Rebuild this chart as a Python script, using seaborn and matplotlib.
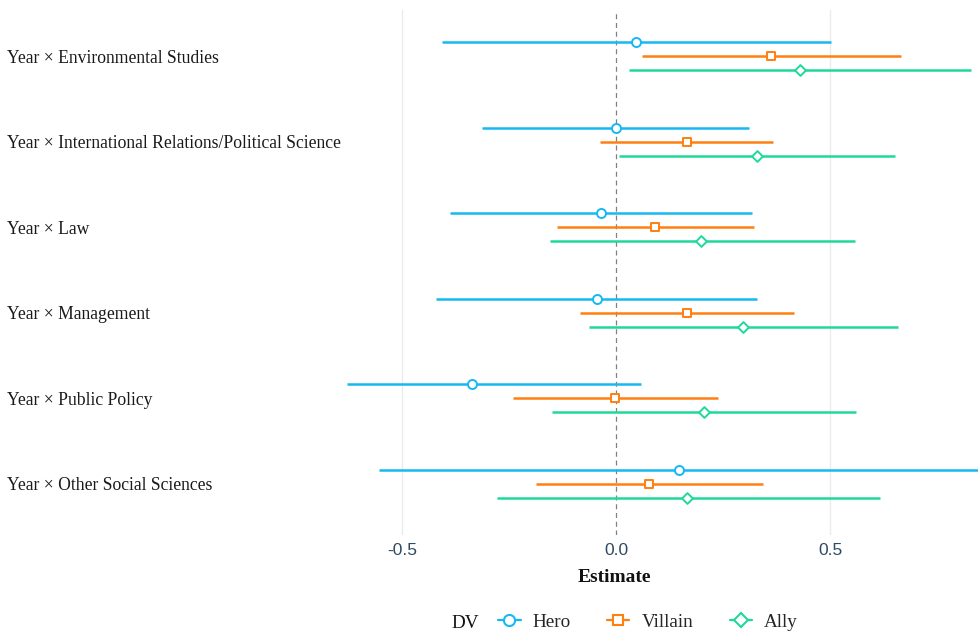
import pandas as pd
import matplotlib
matplotlib.use("Agg")
import matplotlib.pyplot as plt
import matplotlib.transforms as mtransforms
from matplotlib.lines import Line2D
import seaborn as sns

# Data
terms = [
    "Year × Environmental Studies",
    "Year × International Relations/Political Science",
    "Year × Law",
    "Year × Management",
    "Year × Public Policy",
    "Year × Other Social Sciences",
]
dvs = ["Hero", "Villain", "Ally"]

hero_est = [0.047, 0.000, -0.035, -0.044, -0.336, 0.147]
hero_low = [-0.407, -0.313, -0.388, -0.421, -0.628, -0.554]
hero_high = [0.502, 0.311, 0.318, 0.329, 0.058, 0.870]

villain_est = [0.362, 0.166, 0.091, 0.166, -0.002, 0.077]
villain_low = [0.061, -0.037, -0.138, -0.084, -0.241, -0.187]
villain_high = [0.666, 0.367, 0.322, 0.416, 0.238, 0.343]

ally_est = [0.430, 0.329, 0.199, 0.297, 0.206, 0.166]
ally_low = [0.030, 0.007, -0.154, -0.063, -0.150, -0.278]
ally_high = [0.829, 0.652, 0.558, 0.659, 0.561, 0.617]

colors = {"Hero": "#16B8F3", "Villain": "#FF7F11", "Ally": "#1FD99C"}
markers = {"Hero": "o", "Villain": "s", "Ally": "D"}
msizes = {"Hero": 6.5, "Villain": 5.8, "Ally": 5.5}
offsets = {"Hero": -0.165, "Villain": 0.0, "Ally": 0.165}

rows = []
for dv, est, lo, hi in [("Hero", hero_est, hero_low, hero_high),
                        ("Villain", villain_est, villain_low, villain_high),
                        ("Ally", ally_est, ally_low, ally_high)]:
    for i, t in enumerate(terms):
        rows.append({"term": t, "DV": dv, "estimate": est[i], "low": lo[i],
                     "high": hi[i], "y": i + offsets[dv]})
df = pd.DataFrame(rows)

sns.set_theme(style="white")
fig = plt.figure(figsize=(9.79, 6.35), dpi=100)
ax = fig.add_axes([346 / 979, 100 / 635, 633 / 979, 525 / 635])

ax.axvline(0, color="#808080", linestyle=(0, (4, 3)), linewidth=0.9, zorder=1)
for xv in [-0.5, 0.5]:
    ax.axvline(xv, color="#EBEBEB", linewidth=1.0, zorder=0)

for dv in dvs:
    sub = df[df["DV"] == dv]
    ax.hlines(sub["y"], sub["low"], sub["high"], color=colors[dv],
              linewidth=1.8, zorder=2)
    sns.scatterplot(data=sub, x="estimate", y="y", ax=ax, marker=markers[dv],
                    s=msizes[dv] ** 2, facecolor="white", edgecolor=colors[dv],
                    linewidth=1.4, zorder=3, legend=False)

ax.set_xlim(-0.631, 0.848)
ax.set_ylim(5.6, -0.54)
ax.set_xticks([-0.5, 0.0, 0.5])
ax.set_xticklabels(["-0.5", "0.0", "0.5"], fontfamily="Liberation Sans",
                   fontsize=12.5, color="#2E4A62")
ax.set_yticks(range(len(terms)))
ax.set_yticklabels(terms, fontfamily="Liberation Serif", fontsize=12.7,
                   color="#1A1A1A")
# nudge the term labels down a little
shift = mtransforms.ScaledTranslation(0, -2.5 / 100, fig.dpi_scale_trans)
for lab in ax.get_yticklabels():
    lab.set_horizontalalignment("left")
    lab.set_transform(lab.get_transform() + shift)
ax.tick_params(axis="y", length=0, pad=339 * 0.72)
ax.tick_params(axis="x", length=0, pad=6)
for s in ax.spines.values():
    s.set_visible(False)
ax.set_ylabel("")
ax.set_xlabel("")
fig.text(614 / 979, 1 - 577 / 635, "Estimate", ha="center", va="center",
         fontfamily="Liberation Serif", fontsize=14, fontweight="bold",
         color="#111111")

handles = [Line2D([], [], color=colors[dv], marker=markers[dv],
                  markersize=msizes[dv] + 1.5, markerfacecolor="white",
                  markeredgewidth=1.5, linewidth=1.6) for dv in dvs]
leg = fig.legend(handles, dvs, loc="center", ncol=3, frameon=False,
                 bbox_to_anchor=(648 / 979, 1 - 622 / 635),
                 prop={"family": "Liberation Serif", "size": 13.8},
                 handlelength=1.15, handletextpad=0.63, columnspacing=1.9)
fig.text(465 / 979, 1 - 623 / 635, "DV", ha="center", va="center",
         fontfamily="Liberation Serif", fontsize=13.8, color="#111111")

fig.savefig("out.png", dpi=100)
